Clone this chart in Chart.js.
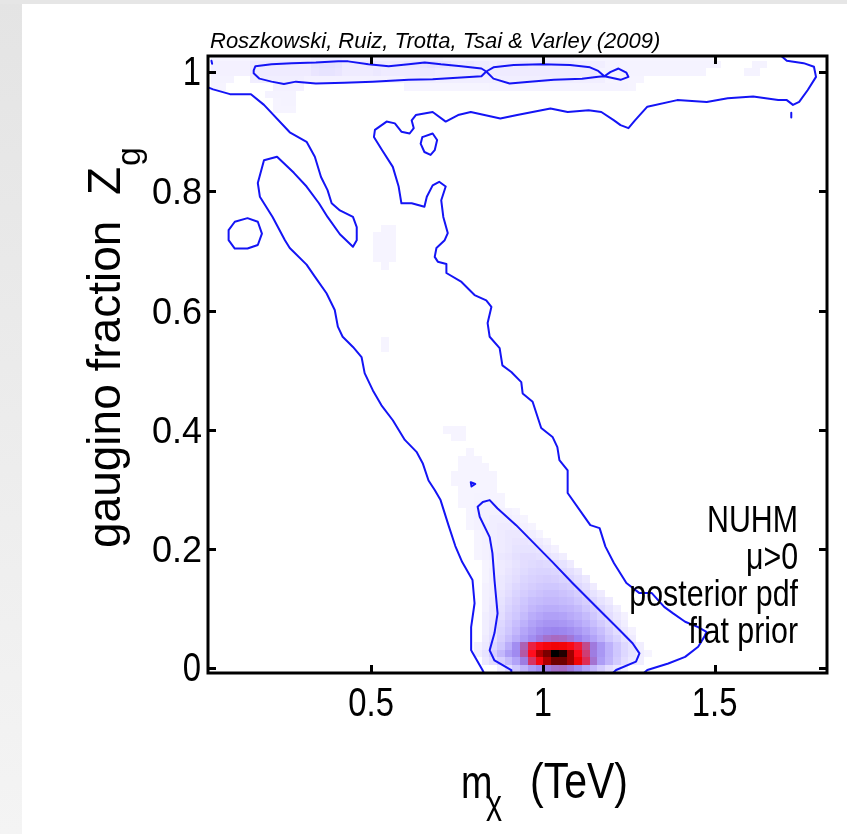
<!DOCTYPE html>
<html>
<head>
<meta charset="utf-8">
<script src="https://cdn.jsdelivr.net/npm/chart.js@4.4.1/dist/chart.umd.min.js"></script>
<style>
  html, body { margin: 0; padding: 0; background: #fff; overflow: hidden; }
  canvas { display: block; }
</style>
</head>
<body>
<canvas id="pdfChart" width="847" height="834"></canvas>
<script>
// ---- axis ranges and ticks -------------------------------------------
const xRange = [0.025, 1.827];          // neutralino mass, TeV
const yRange = [-0.008, 1.027];         // gaugino fraction
const xTickValues = [0.5, 1, 1.5];
const xTickText = ['0.5', '1', '1.5'];
const yTickValues = [0, 0.2, 0.4, 0.6, 0.8, 1];
const yTickText = ['0', '0.2', '0.4', '0.6', '0.8', '1'];

// ---- binned posterior pdf (relative to the peak) -----------------------
// bin centres sit at k*binW (mass) and j*binH (Z_g)
const binW = 0.0225;
const binH = 0.0125;
// each row: [j, first k, pdf values ...]
const coreRows = [
  [0, 39, .02, .05, .10, .15, .22, .27, .32, .36, .37, .33, .27, .20, .14, .09, .05, .03, .015],
  [1, 37, .03, .05, .08, .13, .20, .32, .50, .65, .80, .90, .90, .82, .68, .52, .35, .22, .15, .09, .05, .03, .02],
  [2, 36, .02, .04, .08, .14, .22, .28, .42, .60, .80, .88, 1.0, .97, .82, .62, .48, .32, .24, .16, .10, .06, .04, .02, .01],
  [3, 36, .015, .03, .06, .10, .17, .27, .40, .55, .62, .66, .68, .67, .63, .56, .45, .33, .24, .16, .10, .06, .04, .02],
  [4, 37, .025, .045, .08, .12, .17, .22, .27, .32, .36, .38, .37, .34, .30, .25, .20, .15, .10, .07, .04, .025],
  [5, 37, .02, .04, .07, .10, .14, .19, .23, .27, .29, .30, .29, .27, .24, .20, .16, .12, .08, .05, .03, .015],
  [6, 37, .02, .035, .06, .09, .12, .16, .20, .23, .25, .25, .24, .22, .19, .16, .12, .09, .06, .04, .02],
  [7, 37, .02, .03, .05, .08, .10, .13, .17, .19, .21, .21, .20, .18, .16, .13, .10, .07, .05, .03, .015],
  [8, 37, .015, .03, .045, .07, .09, .11, .14, .16, .17, .17, .16, .15, .13, .10, .08, .06, .04, .02],
  [9, 37, .015, .025, .04, .06, .08, .10, .12, .13, .14, .14, .13, .12, .10, .08, .06, .04, .025],
  [10, 37, .015, .02, .035, .05, .07, .085, .10, .11, .12, .12, .11, .10, .08, .06, .04, .025],
  [11, 37, .015, .02, .03, .045, .06, .075, .085, .095, .10, .10, .09, .08, .06, .045, .025],
  [12, 37, .01, .02, .03, .04, .05, .065, .075, .08, .085, .08, .07, .06, .045, .03],
  [13, 37, .01, .02, .025, .035, .045, .055, .065, .07, .07, .065, .055, .045, .03],
  [14, 37, .01, .015, .025, .03, .04, .05, .055, .06, .055, .05, .04, .025],
  [15, 36, .01, .015, .02, .03, .035, .045, .05, .05, .045, .04, .03, .02],
  [16, 36, .01, .015, .02, .025, .03, .04, .04, .04, .035, .025, .015],
  [17, 36, .01, .015, .02, .025, .03, .035, .035, .03, .025, .015],
  [18, 36, .01, .015, .02, .025, .03, .03, .025, .02, .01],
  [19, 35, .01, .015, .02, .02, .025, .025, .02, .015, .01],
  [20, 35, .01, .015, .015, .02, .02, .02, .015, .01],
  [21, 35, .01, .015, .015, .015, .015, .015, .01],
  [22, 34, .01, .01, .015, .015, .015, .01],
  [23, 34, .01, .01, .012, .012, .01, .01],
  [24, 34, .01, .01, .01, .01, .01],
  [25, 33, .01, .01, .01, .01, .01, .01],
  [26, 33, .01, .01, .01, .01, .01, .01],
  [27, 34, .01, .01, .01, .01],
  [28, 34, .01, .01, .01],
  [29, 35, .01],
  [31, 33, .01, .01],
  [32, 32, .01, .01, .01]
];
const strayRows = [
  [43, 24, .01], [44, 24, .01],
  [54, 24, .01],
  [55, 23, .01, .01, .01], [56, 23, .01, .01, .01], [57, 23, .01, .01, .01], [58, 23, .01, .01, .01],
  [59, 24, .01, .01]
];
const topBandRows = [
  [75, 10, .01, .01, .01],
  [76, 10, .01, .012, .012],
  [77, 9, .012, .012, .012, .012],
  [78, 2, .01, .01, 0, 0, 0, 0, 0, 0, .015, .015, .015, .015, 0, 0, 0, 0, 0, 0, 0, 0, 0, 0, 0, 0, 0,
          .01, .01, .01, .01, .01, .01, .01, .01, .01, .01, .01, .012, .012, .012, .012, .012, .012, .012,
          .012, .012, .012, .012, .012, .012, .012, .012, .012, .012, .012, .01],
  [79, 2, .012, .012, .012, 0, 0, .02, .02, .02, .02, .02, .02, .02, .015, .015, .015, .015, .015, .015,
          .015, .015, .015, .015, .015, .015, .015, .02, .02, .02, .02, .02, .02, .02, .02, .02, .02, .02,
          .02, .02, .02, .02, .02, .02, .02, .02, .02, .02, .02, .02, .02, .02, .02, .01, .01, .01, .01, .01],
  [80, 2, .015, .015, .015, .015, .015, .025, .025, .025, .025, .025, .025, .025, .025, .035, .04, .04, .035,
          .025, .025, .025, .025, .03, .025, .025, .025, .025, .025, .03, .03, .025, .025, .025, .025, .025,
          .025, .025, .025, .025, .025, .025, .025, .025, .025, .025, .025, .025, .025, .025, .025, .025,
          .012, .012, .012, .012, .012, .012, .012, .012, .012, .012, .012, .012, .012, .012, 0, 0, 0, 0, 0, .012, .012],
  [81, 2, .015, .015, .015, .015, .015, .025, .025, .025, .025, .025, .025, .025, .025, .04, .045, .045, .04,
          .025, .025, .025, .03, .025, .025, .025, .025, .03, .03, .04, .045, .04, .035,
          .025, .025, .03, .025, .025, .02, .025, .025, .025, .03, .025, .025, .025, .025, .025, .025, .02, .02, .02, .02,
          .012, .012, .012, .012, .012, .012, .012, .012, .012, .012, .012, .012, .012, .012, .012, 0, 0, 0, 0, .012, .012],
  [82, 2, .01, .01, .01, .01, .01, .015, .015, .015, .015, .015, .015, .015, .015, .02, .02, .02, .02,
          .015, .015, .015, .015, .015, .015, .015, .015, .015, .015, .02, .02, .02, .015,
          .015, .015, .015, .015, .015, .015, .015, .015, .015, .015, .015, .015, .015, .015, .015, .015, .01, .01, .01, .01,
          .01, .01, .01, .01, .01, .01, .01, .01, .01, .01, .01, .01, .01, .01]
];

// colour scale: white -> lavender -> violet -> red -> black
const pdfColourStops = [
  [0.00, [255, 255, 255]],
  [0.01, [246, 244, 255]],
  [0.03, [236, 232, 255]],
  [0.06, [222, 216, 255]],
  [0.12, [200, 190, 253]],
  [0.20, [178, 163, 248]],
  [0.30, [155, 132, 238]],
  [0.40, [172, 98, 180]],
  [0.50, [214, 52, 100]],
  [0.60, [255, 14, 30]],
  [0.70, [238, 0, 0]],
  [0.80, [176, 0, 0]],
  [0.90, [110, 0, 0]],
  [1.00, [0, 0, 0]]
];

// ---- credible-region contours (x: TeV, y: Z_g) ------------------------
const outerLeftEdge = [
  [0.027, 0.974], [0.040, 0.971], [0.089, 0.963], [0.150, 0.963], [0.188, 0.945], [0.263, 0.899],
  [0.312, 0.883], [0.336, 0.858], [0.354, 0.824], [0.373, 0.802], [0.385, 0.780], [0.409, 0.768],
  [0.447, 0.757], [0.458, 0.740], [0.458, 0.718], [0.447, 0.707], [0.409, 0.728], [0.373, 0.757],
  [0.348, 0.780], [0.312, 0.808], [0.275, 0.831], [0.226, 0.858], [0.188, 0.852], [0.170, 0.814],
  [0.176, 0.791], [0.213, 0.757], [0.249, 0.718], [0.263, 0.705], [0.312, 0.677], [0.336, 0.657],
  [0.370, 0.629], [0.394, 0.601], [0.403, 0.573], [0.417, 0.556], [0.447, 0.539], [0.472, 0.522],
  [0.481, 0.495], [0.505, 0.466], [0.530, 0.441], [0.563, 0.416], [0.598, 0.383], [0.632, 0.363],
  [0.650, 0.344], [0.667, 0.315], [0.685, 0.299], [0.702, 0.282], [0.725, 0.240], [0.745, 0.205],
  [0.765, 0.178], [0.795, 0.148], [0.801, 0.109], [0.791, 0.069], [0.791, 0.030], [0.824, -0.003],
  [0.830, -0.010]
];
const outerRightEdge = [
  [1.290, -0.010], [1.304, -0.003], [1.365, 0.008], [1.414, 0.019], [1.452, 0.036], [1.470, 0.053],
  [1.476, 0.061], [1.452, 0.069], [1.414, 0.078], [1.379, 0.092], [1.353, 0.103], [1.317, 0.126],
  [1.281, 0.126], [1.243, 0.143], [1.207, 0.176], [1.182, 0.204], [1.165, 0.235], [1.138, 0.240],
  [1.121, 0.254], [1.072, 0.294], [1.072, 0.332], [1.048, 0.349], [1.042, 0.371], [1.028, 0.388],
  [0.995, 0.403], [0.970, 0.447], [0.941, 0.461], [0.937, 0.480], [0.908, 0.497], [0.882, 0.508],
  [0.874, 0.537], [0.845, 0.556], [0.839, 0.579], [0.850, 0.606], [0.835, 0.617], [0.801, 0.626],
  [0.787, 0.634], [0.763, 0.648], [0.719, 0.663], [0.719, 0.678], [0.694, 0.682], [0.685, 0.690],
  [0.690, 0.705], [0.714, 0.718], [0.723, 0.730], [0.710, 0.757], [0.704, 0.785], [0.717, 0.808],
  [0.698, 0.816], [0.679, 0.810], [0.662, 0.791], [0.655, 0.774], [0.618, 0.780], [0.588, 0.780],
  [0.580, 0.808], [0.563, 0.841], [0.532, 0.869], [0.508, 0.891], [0.511, 0.903], [0.545, 0.917],
  [0.569, 0.914], [0.588, 0.900], [0.612, 0.897], [0.624, 0.906], [0.618, 0.919], [0.630, 0.928],
  [0.679, 0.933], [0.717, 0.917], [0.753, 0.928], [0.790, 0.933], [0.876, 0.922], [0.925, 0.928],
  [1.022, 0.939], [1.072, 0.933], [1.133, 0.936], [1.170, 0.933], [1.207, 0.919], [1.226, 0.911],
  [1.249, 0.906], [1.268, 0.919], [1.304, 0.942], [1.391, 0.953], [1.477, 0.950], [1.538, 0.956],
  [1.612, 0.959], [1.685, 0.953], [1.710, 0.953], [1.728, 0.945], [1.746, 0.950], [1.771, 0.970],
  [1.795, 0.992], [1.789, 1.009], [1.759, 1.015], [1.710, 1.019], [1.688, 1.030]
];
const innerCore = [
  [0.908, -0.010], [0.908, -0.003], [0.859, 0.013], [0.845, 0.030], [0.859, 0.059], [0.868, 0.092],
  [0.859, 0.148], [0.853, 0.193], [0.845, 0.220], [0.816, 0.254], [0.810, 0.271], [0.825, 0.279],
  [0.845, 0.282], [0.868, 0.268], [0.922, 0.240], [0.970, 0.212], [1.028, 0.178], [1.086, 0.143],
  [1.155, 0.103], [1.223, 0.064], [1.261, 0.042], [1.281, 0.025], [1.271, 0.011], [1.213, -0.003],
  [1.200, -0.010]
];
const topLobes = [
  [0.158, 1.003], [0.163, 1.010], [0.210, 1.013], [0.269, 1.015], [0.339, 1.016], [0.404, 1.018],
  [0.433, 1.018], [0.492, 1.013], [0.551, 1.010], [0.609, 1.013], [0.656, 1.016], [0.703, 1.013],
  [0.762, 1.010], [0.821, 1.006], [0.835, 1.001], [0.856, 1.008], [0.915, 1.012], [0.996, 1.013],
  [1.079, 1.012], [1.137, 1.008], [1.161, 1.002], [1.179, 0.993], [1.196, 1.000], [1.220, 1.006],
  [1.243, 0.999], [1.249, 0.992], [1.226, 0.987], [1.196, 0.991], [1.179, 0.993], [1.161, 0.992],
  [1.114, 0.989], [1.032, 0.987], [0.962, 0.984], [0.903, 0.981], [0.856, 0.989], [0.835, 1.001],
  [0.821, 0.993], [0.762, 0.991], [0.679, 0.988], [0.609, 0.987], [0.504, 0.984], [0.422, 0.982],
  [0.339, 0.981], [0.281, 0.984], [0.246, 0.980], [0.210, 0.984], [0.175, 0.989], [0.158, 0.998],
  [0.158, 1.003]
];
const islandLeft = [
  [0.085, 0.735], [0.103, 0.749], [0.140, 0.755], [0.170, 0.749], [0.182, 0.729], [0.170, 0.710],
  [0.140, 0.704], [0.103, 0.704], [0.085, 0.718], [0.085, 0.735]
];
const islandTop = [
  [0.649, 0.891], [0.679, 0.897], [0.692, 0.886], [0.685, 0.869], [0.673, 0.861], [0.655, 0.866],
  [0.644, 0.880], [0.649, 0.891]
];
const speckMid = [[0.790, 0.312], [0.803, 0.309], [0.792, 0.305], [0.790, 0.312]];
const speckRight = [[1.723, 0.932], [1.723, 0.924]];
const cornerDot = [[0.035, 1.019], [0.037, 1.014]];

// ---- text --------------------------------------------------------------
const headerText = 'Roszkowski, Ruiz, Trotta, Tsai & Varley (2009)';
const yTitleMain = 'gaugino fraction  Z';
const yTitleSub = 'g';
const xTitleMain = 'm';
const xTitleSub = '\u03c7';
const xTitleUnit = '(TeV)';
const noteLines = ['NUHM', '\u03bc>0', 'posterior pdf', 'flat prior'];

// ------------------------------------------------------------------------
const probe = document.createElement('canvas').getContext('2d');
function fontInstalled(name) {
  probe.font = '40px "' + name + '", monospace';
  const a = probe.measureText('posterior pdf 0.5').width;
  probe.font = '40px monospace';
  const b = probe.measureText('posterior pdf 0.5').width;
  return Math.abs(a - b) > 0.5;
}
const hasNarrow = fontInstalled('Liberation Sans Narrow');
const narrowFace = hasNarrow ? '"Liberation Sans Narrow"' : '"Liberation Sans", Arial, sans-serif';
const narrowScale = hasNarrow ? 1 : 0.82;
const plainFace = '"Liberation Sans", Arial, sans-serif';

function pdfColour(v) {
  for (let i = 1; i < pdfColourStops.length; i++) {
    const [v1, c1] = pdfColourStops[i];
    if (v <= v1) {
      const [v0, c0] = pdfColourStops[i - 1];
      const t = (v - v0) / (v1 - v0);
      const c = c0.map((a, n) => Math.round(a + (c1[n] - a) * t));
      return 'rgb(' + c.join(',') + ')';
    }
  }
  return 'rgb(0,0,0)';
}

function drawText(ctx, text, x, y, font, align, sx) {
  ctx.save();
  ctx.translate(x, y);
  ctx.scale(sx, 1);
  ctx.font = font;
  ctx.textAlign = align;
  ctx.textBaseline = 'alphabetic';
  ctx.fillStyle = '#000';
  ctx.fillText(text, 0, 0);
  ctx.restore();
}

const pageBackground = {
  id: 'pageBackground',
  beforeDraw(chart) {
    const ctx = chart.ctx;
    ctx.save();
    ctx.fillStyle = '#ffffff';
    ctx.fillRect(0, 0, chart.width, chart.height);
    const g = ctx.createLinearGradient(0, 0, 0, chart.height);
    g.addColorStop(0, '#e4e4e4');
    g.addColorStop(1, '#f4f4f4');
    ctx.fillStyle = g;
    ctx.fillRect(0, 0, 22, chart.height);
    ctx.fillStyle = '#e6e6e6';
    ctx.fillRect(0, 0, chart.width, 4);
    ctx.restore();
  }
};

const pdfCells = {
  id: 'pdfCells',
  beforeDatasetsDraw(chart) {
    const { ctx, chartArea: a } = chart;
    const xs = chart.scales.x, ys = chart.scales.y;
    ctx.save();
    ctx.beginPath();
    ctx.rect(a.left, a.top, a.right - a.left, a.bottom - a.top);
    ctx.clip();
    [topBandRows, strayRows, coreRows].forEach(rows => rows.forEach(row => {
      const j = row[0], k0 = row[1];
      for (let i = 2; i < row.length; i++) {
        const v = row[i];
        if (!v) continue;
        const k = k0 + i - 2;
        const x0 = Math.round(xs.getPixelForValue((k - 0.5) * binW));
        const x1 = Math.round(xs.getPixelForValue((k + 0.5) * binW));
        const y0 = Math.round(ys.getPixelForValue((j + 0.5) * binH));
        const y1 = Math.round(ys.getPixelForValue((j - 0.5) * binH));
        ctx.fillStyle = pdfColour(v);
        ctx.fillRect(x0, y0, x1 - x0, y1 - y0);
      }
    }));
    ctx.restore();
  }
};

const frameAndText = {
  id: 'frameAndText',
  afterDatasetsDraw(chart) {
    const { ctx, chartArea: a } = chart;
    const xs = chart.scales.x, ys = chart.scales.y;
    ctx.save();
    ctx.strokeStyle = '#000';
    ctx.lineWidth = 3;
    ctx.lineCap = 'butt';
    ctx.strokeRect(a.left, a.top, a.right - a.left, a.bottom - a.top);
    const tl = 8;
    ctx.beginPath();
    xTickValues.forEach(v => {
      const px = Math.round(xs.getPixelForValue(v)) + 0.5;
      ctx.moveTo(px, a.bottom); ctx.lineTo(px, a.bottom - tl);
      ctx.moveTo(px, a.top); ctx.lineTo(px, a.top + tl);
    });
    yTickValues.forEach(v => {
      const py = Math.round(ys.getPixelForValue(v)) + 0.5;
      ctx.moveTo(a.left, py); ctx.lineTo(a.left + tl, py);
      ctx.moveTo(a.right, py); ctx.lineTo(a.right - tl, py);
    });
    ctx.stroke();
    ctx.restore();

    // tick labels
    xTickValues.forEach((v, i) => {
      drawText(ctx, xTickText[i], xs.getPixelForValue(v), 716, '40px ' + narrowFace, 'center', narrowScale);
    });
    yTickValues.forEach((v, i) => {
      const py = ys.getPixelForValue(v) + 13;
      const t = yTickText[i];
      if (t === '0' || t === '1') {
        drawText(ctx, t, 201, py, '40px ' + narrowFace, 'right', narrowScale);
      } else {
        drawText(ctx, t, 202, py, '36px ' + plainFace, 'right', 1);
      }
    });

    // header
    drawText(ctx, headerText, 210, 48, 'italic 22px ' + plainFace, 'left', 1);

    // y title, reading upwards
    ctx.save();
    ctx.translate(120, 548);
    ctx.rotate(-Math.PI / 2);
    ctx.font = '46px ' + plainFace;
    ctx.fillStyle = '#000';
    ctx.textAlign = 'left';
    ctx.fillText(yTitleMain, 0, 0);
    const w = ctx.measureText(yTitleMain).width;
    ctx.font = '34px ' + plainFace;
    ctx.fillText(yTitleSub, w + 1, 20);
    ctx.restore();

    // x title
    drawText(ctx, xTitleMain, 461, 798, '46px ' + narrowFace, 'left', narrowScale);
    drawText(ctx, xTitleSub, 486, 814, '34px ' + plainFace, 'left', 0.9);
    drawText(ctx, xTitleUnit, 530, 798, '50px ' + narrowFace, 'left', narrowScale);

    // note block
    const noteBase = [532, 569, 606, 643];
    noteLines.forEach((t, i) => {
      drawText(ctx, t, 798, noteBase[i], '37px ' + narrowFace, 'right', narrowScale);
    });
  }
};

const pts = arr => arr.map(([x, y]) => ({ x, y }));
const contourStyle = {
  showLine: true, fill: false, borderColor: '#1414f5', borderWidth: 2,
  pointRadius: 0, pointHoverRadius: 0, tension: 0, borderJoinStyle: 'round', borderCapStyle: 'round'
};

new Chart(document.getElementById('pdfChart'), {
  type: 'scatter',
  data: {
    datasets: [
      { label: '95% left', data: pts(outerLeftEdge), ...contourStyle },
      { label: '95% right', data: pts(outerRightEdge), ...contourStyle },
      { label: '68% core', data: pts(innerCore), ...contourStyle },
      { label: '68% top', data: pts(topLobes), ...contourStyle },
      { label: 'island a', data: pts(islandLeft), ...contourStyle },
      { label: 'island b', data: pts(islandTop), ...contourStyle },
      { label: 'speck a', data: pts(speckMid), ...contourStyle },
      { label: 'speck b', data: pts(speckRight), ...contourStyle },
      { label: 'speck c', data: pts(cornerDot), ...contourStyle }
    ]
  },
  options: {
    responsive: false,
    animation: false,
    devicePixelRatio: 1,
    layout: { padding: { left: 0, right: 20, top: 56, bottom: 0 } },
    plugins: { legend: { display: false }, tooltip: { enabled: false } },
    events: [],
    scales: {
      x: {
        type: 'linear', min: xRange[0], max: xRange[1],
        afterBuildTicks: s => { s.ticks = xTickValues.map(v => ({ value: v })); },
        afterFit: s => { s.height = 161; },
        ticks: { display: false }, grid: { display: false }, border: { display: false }
      },
      y: {
        type: 'linear', min: yRange[0], max: yRange[1],
        afterBuildTicks: s => { s.ticks = yTickValues.map(v => ({ value: v })); },
        afterFit: s => { s.width = 208; },
        ticks: { display: false }, grid: { display: false }, border: { display: false }
      }
    }
  },
  plugins: [pageBackground, pdfCells, frameAndText]
});
</script>
</body>
</html>
